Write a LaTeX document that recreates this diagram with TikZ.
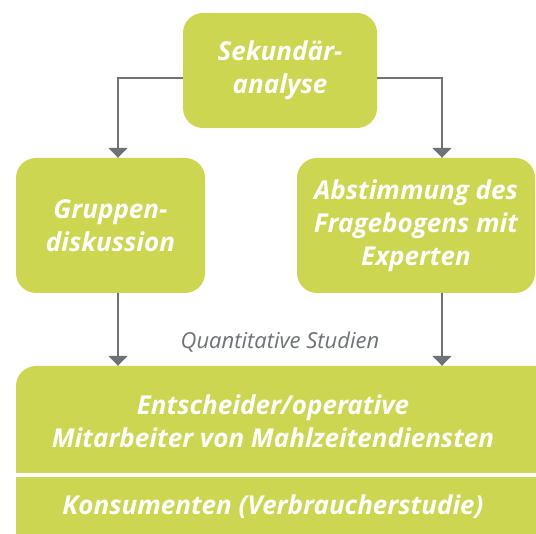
\documentclass[tikz,border=0pt]{standalone}
\usepackage{fontspec}
\setmainfont{Open Sans}
\usetikzlibrary{arrows.meta}
\definecolor{boxgreen}{RGB}{204,214,80}
\definecolor{linegray}{RGB}{110,115,118}
\begin{document}
\begin{tikzpicture}[x=1pt, y=-1pt]
	\tikzstyle{block}=[fill=boxgreen, rounded corners=20pt, inner sep=0pt, text=white, align=center, font=\fontsize{26}{33}\selectfont\bfseries\itshape]
	\tikzstyle{label}=[text=white, align=center, font=\fontsize{26}{33}\selectfont\bfseries\itshape]
	\tikzstyle{arr}=[draw=linegray, line width=2pt, -{Triangle[width=19pt, length=10pt]}, linegray]
	\useasboundingbox (0,0) rectangle (536,534);
	\fill[white] (0,0) rectangle (536,534);
	\clip (0,0) rectangle (536,534);
	% Top
	\node at (280,70.5) [block, minimum width=194pt, minimum height=115pt] (sekundaer) {Sekundär-\\analyse};
	% Middle row
	\node at (110.5,225.5) [block, minimum width=189pt, minimum height=135pt] (gruppen) {Gruppen-\\diskussion};
	\node at (416,225.5) [block, minimum width=238pt, minimum height=135pt] (abstimmung) {Abstimmung des\\Fragebogens mit\\Experten};
	% Bottom
	\node at (290,476) [block, minimum width=548pt, minimum height=220pt] (studien) {};
	\draw[white, line width=4.5pt] (studien.west |- 0,475) -- (studien.east |- 0,475);
	\node at (273,421) [label] (entscheider) {Entscheider/operative\\Mitarbeiter von Mahlzeitendiensten};
	\node at (273,507) [label] (konsumenten) {Konsumenten (Verbraucherstudie)};
	\node at (280,342) [text=linegray, font=\fontsize{22}{26}\selectfont\itshape] (quanti) {Quantitative Studien};
	%---------------------%
	\coordinate (links) at (118,0);
	\coordinate (rechts) at (442,0);
	% Top -> Middle
	\draw[arr] ([yshift=-7.5pt]sekundaer.west) -| (links |- gruppen.north);
	\draw[arr] ([yshift=-7.5pt]sekundaer.east) -| (rechts |- abstimmung.north);
	% Middle -> Bottom
	\draw[arr] (links |- gruppen.south) -- (links |- studien.north);
	\draw[arr] (rechts |- abstimmung.south) -- (rechts |- studien.north);
	%---------------------%
\end{tikzpicture}
\end{document}
